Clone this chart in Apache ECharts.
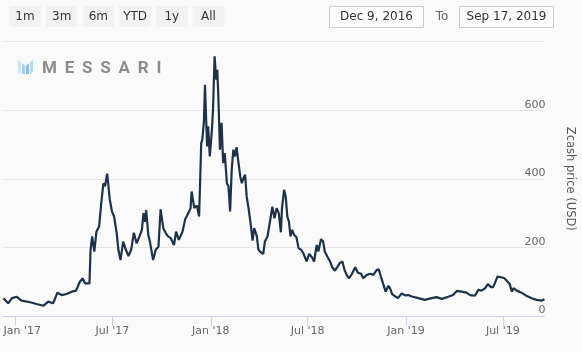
<!DOCTYPE html>
<html>
<head>
<meta charset="utf-8">
<script src="https://cdn.jsdelivr.net/npm/echarts@6/dist/echarts.min.js"></script>
<style>
  html, body { margin: 0; padding: 0; background: #fafafa; }
  #wrap { position: relative; width: 582px; height: 352px; }
  #zecChart { width: 582px; height: 352px; }
  #mark { position: absolute; left: 18px; top: 60px; pointer-events: none; display: flex; align-items: center; }
  #mark span { font: bold 17px Roboto, sans-serif; letter-spacing: 7.8px; color: #8c8c8c; margin-left: 9px; line-height: 14px; }
</style>
</head>
<body>
<div id="wrap">
  <div id="zecChart"></div>
  <div id="mark">
    <svg width="15" height="14" viewBox="0 0 15 14">
      <polygon points="0,0 3,2 3,14 0,12" fill="#cfe2f3"/>
      <polygon points="4,3 7,6 7,14 4,14" fill="#a9cbe9"/>
      <polygon points="8,6 11,3 11,14 8,14" fill="#8fbbe3"/>
      <polygon points="12,2 15,0 15,12 12,14" fill="#b9d6ef"/>
    </svg>
    <span>MESSARI</span>
  </div>
</div>
<script>
var rangeButtons = ["1m", "3m", "6m", "YTD", "1y", "All"];
var fromText = "Dec 9, 2016";
var toText = "Sep 17, 2019";

var tickDates = ["2017-01-01", "2017-07-01", "2018-01-01", "2018-07-01", "2019-01-01", "2019-07-01"];
var tickLabels = ["Jan '17", "Jul '17", "Jan '18", "Jul '18", "Jan '19", "Jul '19"];

var priceDates = [
  "2016-12-09", "2016-12-18", "2016-12-25", "2017-01-03", "2017-01-12", "2017-01-28", "2017-02-09", "2017-02-22",
  "2017-03-03", "2017-03-12", "2017-03-20", "2017-03-28", "2017-04-06", "2017-04-16", "2017-04-24", "2017-04-30",
  "2017-05-06", "2017-05-11", "2017-05-19", "2017-05-21", "2017-05-24", "2017-05-28", "2017-06-01", "2017-06-06",
  "2017-06-10", "2017-06-14", "2017-06-17", "2017-06-21", "2017-06-23", "2017-06-26", "2017-06-30", "2017-07-04",
  "2017-07-09", "2017-07-12", "2017-07-16", "2017-07-21", "2017-07-26", "2017-07-31", "2017-08-05", "2017-08-10",
  "2017-08-15", "2017-08-20", "2017-08-25", "2017-08-28", "2017-08-31", "2017-09-02", "2017-09-06", "2017-09-09",
  "2017-09-15", "2017-09-20", "2017-09-25", "2017-09-29", "2017-10-04", "2017-10-09", "2017-10-13", "2017-10-18",
  "2017-10-24", "2017-10-28", "2017-11-02", "2017-11-09", "2017-11-14", "2017-11-20", "2017-11-24", "2017-11-26",
  "2017-12-01", "2017-12-06", "2017-12-10", "2017-12-14", "2017-12-16", "2017-12-19", "2017-12-21", "2017-12-23",
  "2017-12-25", "2017-12-27", "2017-12-30", "2018-01-03", "2018-01-05", "2018-01-08", "2018-01-11", "2018-01-13",
  "2018-01-15", "2018-01-18", "2018-01-21", "2018-01-24", "2018-01-27", "2018-01-31", "2018-02-03", "2018-02-06",
  "2018-02-09", "2018-02-12", "2018-02-15", "2018-02-18", "2018-02-21", "2018-02-25", "2018-02-28", "2018-03-03",
  "2018-03-06", "2018-03-09", "2018-03-13", "2018-03-17", "2018-03-20", "2018-03-23", "2018-03-28", "2018-03-31",
  "2018-04-05", "2018-04-09", "2018-04-12", "2018-04-17", "2018-04-22", "2018-04-26", "2018-04-30", "2018-05-04",
  "2018-05-08", "2018-05-12", "2018-05-14", "2018-05-18", "2018-05-21", "2018-05-24", "2018-05-27", "2018-05-30",
  "2018-06-02", "2018-06-06", "2018-06-10", "2018-06-14", "2018-06-19", "2018-06-23", "2018-06-29", "2018-07-04",
  "2018-07-09", "2018-07-13", "2018-07-18", "2018-07-21", "2018-07-26", "2018-07-30", "2018-08-02", "2018-08-07",
  "2018-08-12", "2018-08-16", "2018-08-21", "2018-08-26", "2018-08-30", "2018-09-04", "2018-09-08", "2018-09-12",
  "2018-09-16", "2018-09-21", "2018-09-28", "2018-10-03", "2018-10-09", "2018-10-13", "2018-10-20", "2018-10-26",
  "2018-11-01", "2018-11-07", "2018-11-11", "2018-11-15", "2018-11-19", "2018-11-24", "2018-11-29", "2018-12-02",
  "2018-12-06", "2018-12-13", "2018-12-17", "2018-12-24", "2018-12-30", "2019-01-05", "2019-01-12", "2019-01-24",
  "2019-02-05", "2019-02-18", "2019-02-27", "2019-03-09", "2019-03-21", "2019-03-30", "2019-04-06", "2019-04-15",
  "2019-04-24", "2019-05-01", "2019-05-10", "2019-05-16", "2019-05-22", "2019-05-29", "2019-06-03", "2019-06-09",
  "2019-06-13", "2019-06-16", "2019-06-21", "2019-06-28", "2019-07-04", "2019-07-10", "2019-07-14", "2019-07-18",
  "2019-07-21", "2019-07-27", "2019-08-05", "2019-08-15", "2019-08-24", "2019-09-02", "2019-09-12", "2019-09-17"
];
var prices = [
  52, 37, 52, 56, 45, 40, 35, 30,
  42, 37, 68, 61, 64, 71, 74, 97,
  110, 95, 95, 193, 232, 188, 246, 261,
  329, 387, 378, 415, 387, 339, 305, 290,
  241, 193, 163, 217, 193, 175, 193, 243,
  212, 230, 251, 300, 275, 309, 236, 217,
  163, 193, 202, 311, 256, 241, 232, 227,
  207, 246, 222, 246, 282, 300, 314, 363,
  315, 322, 290, 504, 514, 567, 674, 582,
  494, 553, 465, 543, 601, 757, 689, 718,
  640, 485, 563, 446, 475, 387, 378, 305,
  426, 485, 465, 492, 455, 407, 387, 402,
  412, 348, 309, 261, 220, 256, 232, 193,
  185, 181, 217, 232, 280, 319, 285, 314,
  300, 244, 314, 368, 348, 290, 275, 232,
  251, 236, 230, 198, 193, 183, 159, 181,
  171, 159, 207, 188, 224, 217, 188, 173,
  159, 142, 132, 144, 154, 159, 134, 120,
  110, 120, 142, 126, 123, 110, 120, 123,
  120, 134, 136, 115, 95, 71, 88, 81,
  64, 56, 52, 66, 60, 61, 57, 52,
  47, 52, 55, 50, 56, 61, 73, 71,
  68, 61, 59, 76, 74, 81, 93, 84,
  84, 95, 115, 113, 110, 100, 93, 71,
  81, 74, 68, 58, 52, 47, 45, 49
];

// daily category axis from first to last date
var days = [];
var t = Date.UTC(2016, 11, 9), tEnd = Date.UTC(2019, 8, 17);
while (t <= tEnd) {
  days.push(new Date(t).toISOString().slice(0, 10));
  t += 86400000;
}

var seriesData = priceDates.map(function (d, i) { return [d, prices[i]]; });

function isTick(index, value) {
  return tickDates.indexOf(value) >= 0;
}

var graphic = [];
rangeButtons.forEach(function (b, i) {
  var x = 9 + i * 36.7;
  graphic.push({ type: "rect", left: x, top: 6, shape: { width: 32, height: 21, r: 2 }, style: { fill: "#f2f2f2" } });
  graphic.push({ type: "text", x: x + 16, y: 17, style: { text: b, fill: "#333", font: "12px 'DejaVu Sans'", align: "center", verticalAlign: "middle" } });
});
graphic.push({ type: "rect", shape: { x: 329.5, y: 6.5, width: 94, height: 21 }, style: { fill: "#fcfcfc", stroke: "#cccccc", lineWidth: 1 } });
graphic.push({ type: "text", x: 376.5, y: 17, style: { text: fromText, fill: "#333", font: "12px 'DejaVu Sans'", align: "center", verticalAlign: "middle" } });
graphic.push({ type: "text", x: 442, y: 17, style: { text: "To", fill: "#666", font: "12px 'DejaVu Sans'", align: "center", verticalAlign: "middle" } });
graphic.push({ type: "rect", shape: { x: 459.5, y: 6.5, width: 94, height: 21 }, style: { fill: "#fcfcfc", stroke: "#cccccc", lineWidth: 1 } });
graphic.push({ type: "text", x: 506.5, y: 17, style: { text: toText, fill: "#333", font: "12px 'DejaVu Sans'", align: "center", verticalAlign: "middle" } });

var chart = echarts.init(document.getElementById("zecChart"));
chart.setOption({
  backgroundColor: "#fafafa",
  animation: false,
  textStyle: { fontFamily: "DejaVu Sans" },
  graphic: graphic,
  grid: {
    left: 3.4,
    right: 37.5,
    top: 41.6,
    bottom: 36,
    containLabel: false,
    outerBoundsMode: "none"
  },
  xAxis: {
    type: "category",
    data: days,
    boundaryGap: false,
    axisLine: { lineStyle: { color: "#ccd6eb", width: 1 } },
    axisTick: { interval: isTick, length: 10, lineStyle: { color: "#ccd6eb" } },
    axisLabel: {
      interval: isTick,
      margin: 10,
      color: "#666",
      fontSize: 11,
      formatter: function (value) {
        var k = tickDates.indexOf(value);
        if (k === 0) return "{first|" + tickLabels[k] + "}";
        return k >= 0 ? tickLabels[k] : "";
      },
      rich: { first: { padding: [0, 0, 0, 13], color: "#666", fontSize: 11 } }
    },
    splitLine: { show: false }
  },
  yAxis: {
    type: "value",
    position: "right",
    min: 0,
    max: 800,
    interval: 200,
    axisLine: { show: false },
    axisTick: { show: false },
    splitLine: { lineStyle: { color: "#e6e6e6", width: 1 } },
    axisLabel: {
      inside: true,
      margin: -1,
      verticalAlign: "bottom",
      color: "#666",
      fontSize: 11,
      formatter: function (v) { return v === 800 ? "" : v; }
    },
    name: "Zcash price (USD)",
    nameLocation: "middle",
    nameRotate: -90,
    nameGap: 19,
    nameTextStyle: { color: "#555", fontSize: 11.5 }
  },
  series: [
    {
      name: "Zcash price",
      type: "line",
      data: seriesData,
      showSymbol: false,
      lineStyle: { color: "#1e3148", width: 2.2 },
      itemStyle: { color: "#1e3148" }
    }
  ]
});
</script>
</body>
</html>
